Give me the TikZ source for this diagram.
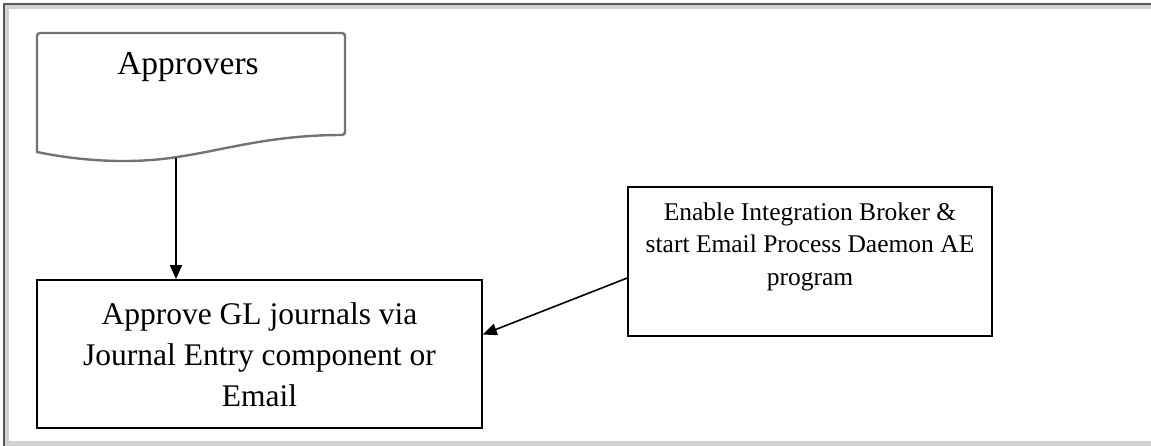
\documentclass[tikz,border=0pt]{standalone}
\usepackage{fontspec}
\setmainfont{Liberation Serif}
\usetikzlibrary{arrows.meta,calc}
\begin{document}
\begin{tikzpicture}[x=1pt,y=-1pt,
  box/.style={draw=black, line width=1.8pt, rectangle, inner sep=0pt},
  doc/.style={draw=gray!90!black, line width=2.4pt, rounded corners=3pt},
  bigtext/.style={font=\fontsize{31.5}{41}\selectfont, align=center, inner sep=0pt},
  smalltext/.style={font=\fontsize{25.5}{32.5}\selectfont, align=center, inner sep=0pt},
  link/.style={draw=black, line width=1.6pt, -{Triangle[length=14pt,width=12pt]}}]
  \useasboundingbox (0,0) rectangle (1151,446);
  % window frame
  \fill[gray!35] (5,5) rectangle (1151,9);
  \fill[gray!35] (5,5) rectangle (9,446);
  \fill[gray!35] (5,441) rectangle (1151,446);
  \draw[gray!70!black, line width=1.5pt] (4,446) -- (4,4) -- (1151,4);

  % document shape: Approvers
  \draw[doc] (37,152) -- (37,33) -- (345,33) -- (345,135)
    [sharp corners] .. controls (270,135) and (225,150) .. (177,157)
    .. controls (140,163) and (90,163) .. (37,152) -- cycle;
  \node[bigtext, font=\fontsize{33.5}{41}\selectfont] (appr) at (188,67) {Approvers};
  \coordinate (apprbot) at (176,158);

  % process boxes
  \node[box, minimum width=445pt, minimum height=148pt] (approve) at (259.5,354) {};
  \node[bigtext] (approvetext) at (259.5,355) {Approve GL journals via\\Journal Entry component or\\Email};

  \node[box, minimum width=364pt, minimum height=149pt] (enable) at (810,261.5) {};
  \node[smalltext] (enabletext) at (810,246.5) {Enable Integration Broker \&\\start Email Process Daemon AE\\program};

  % connectors
  \draw[link] (apprbot) -- (apprbot |- approve.north);
  \draw[link] ($(enable.south west)!0.39!(enable.north west)$) -- ($(approve.south east)!0.63!(approve.north east)$);
\end{tikzpicture}
\end{document}
